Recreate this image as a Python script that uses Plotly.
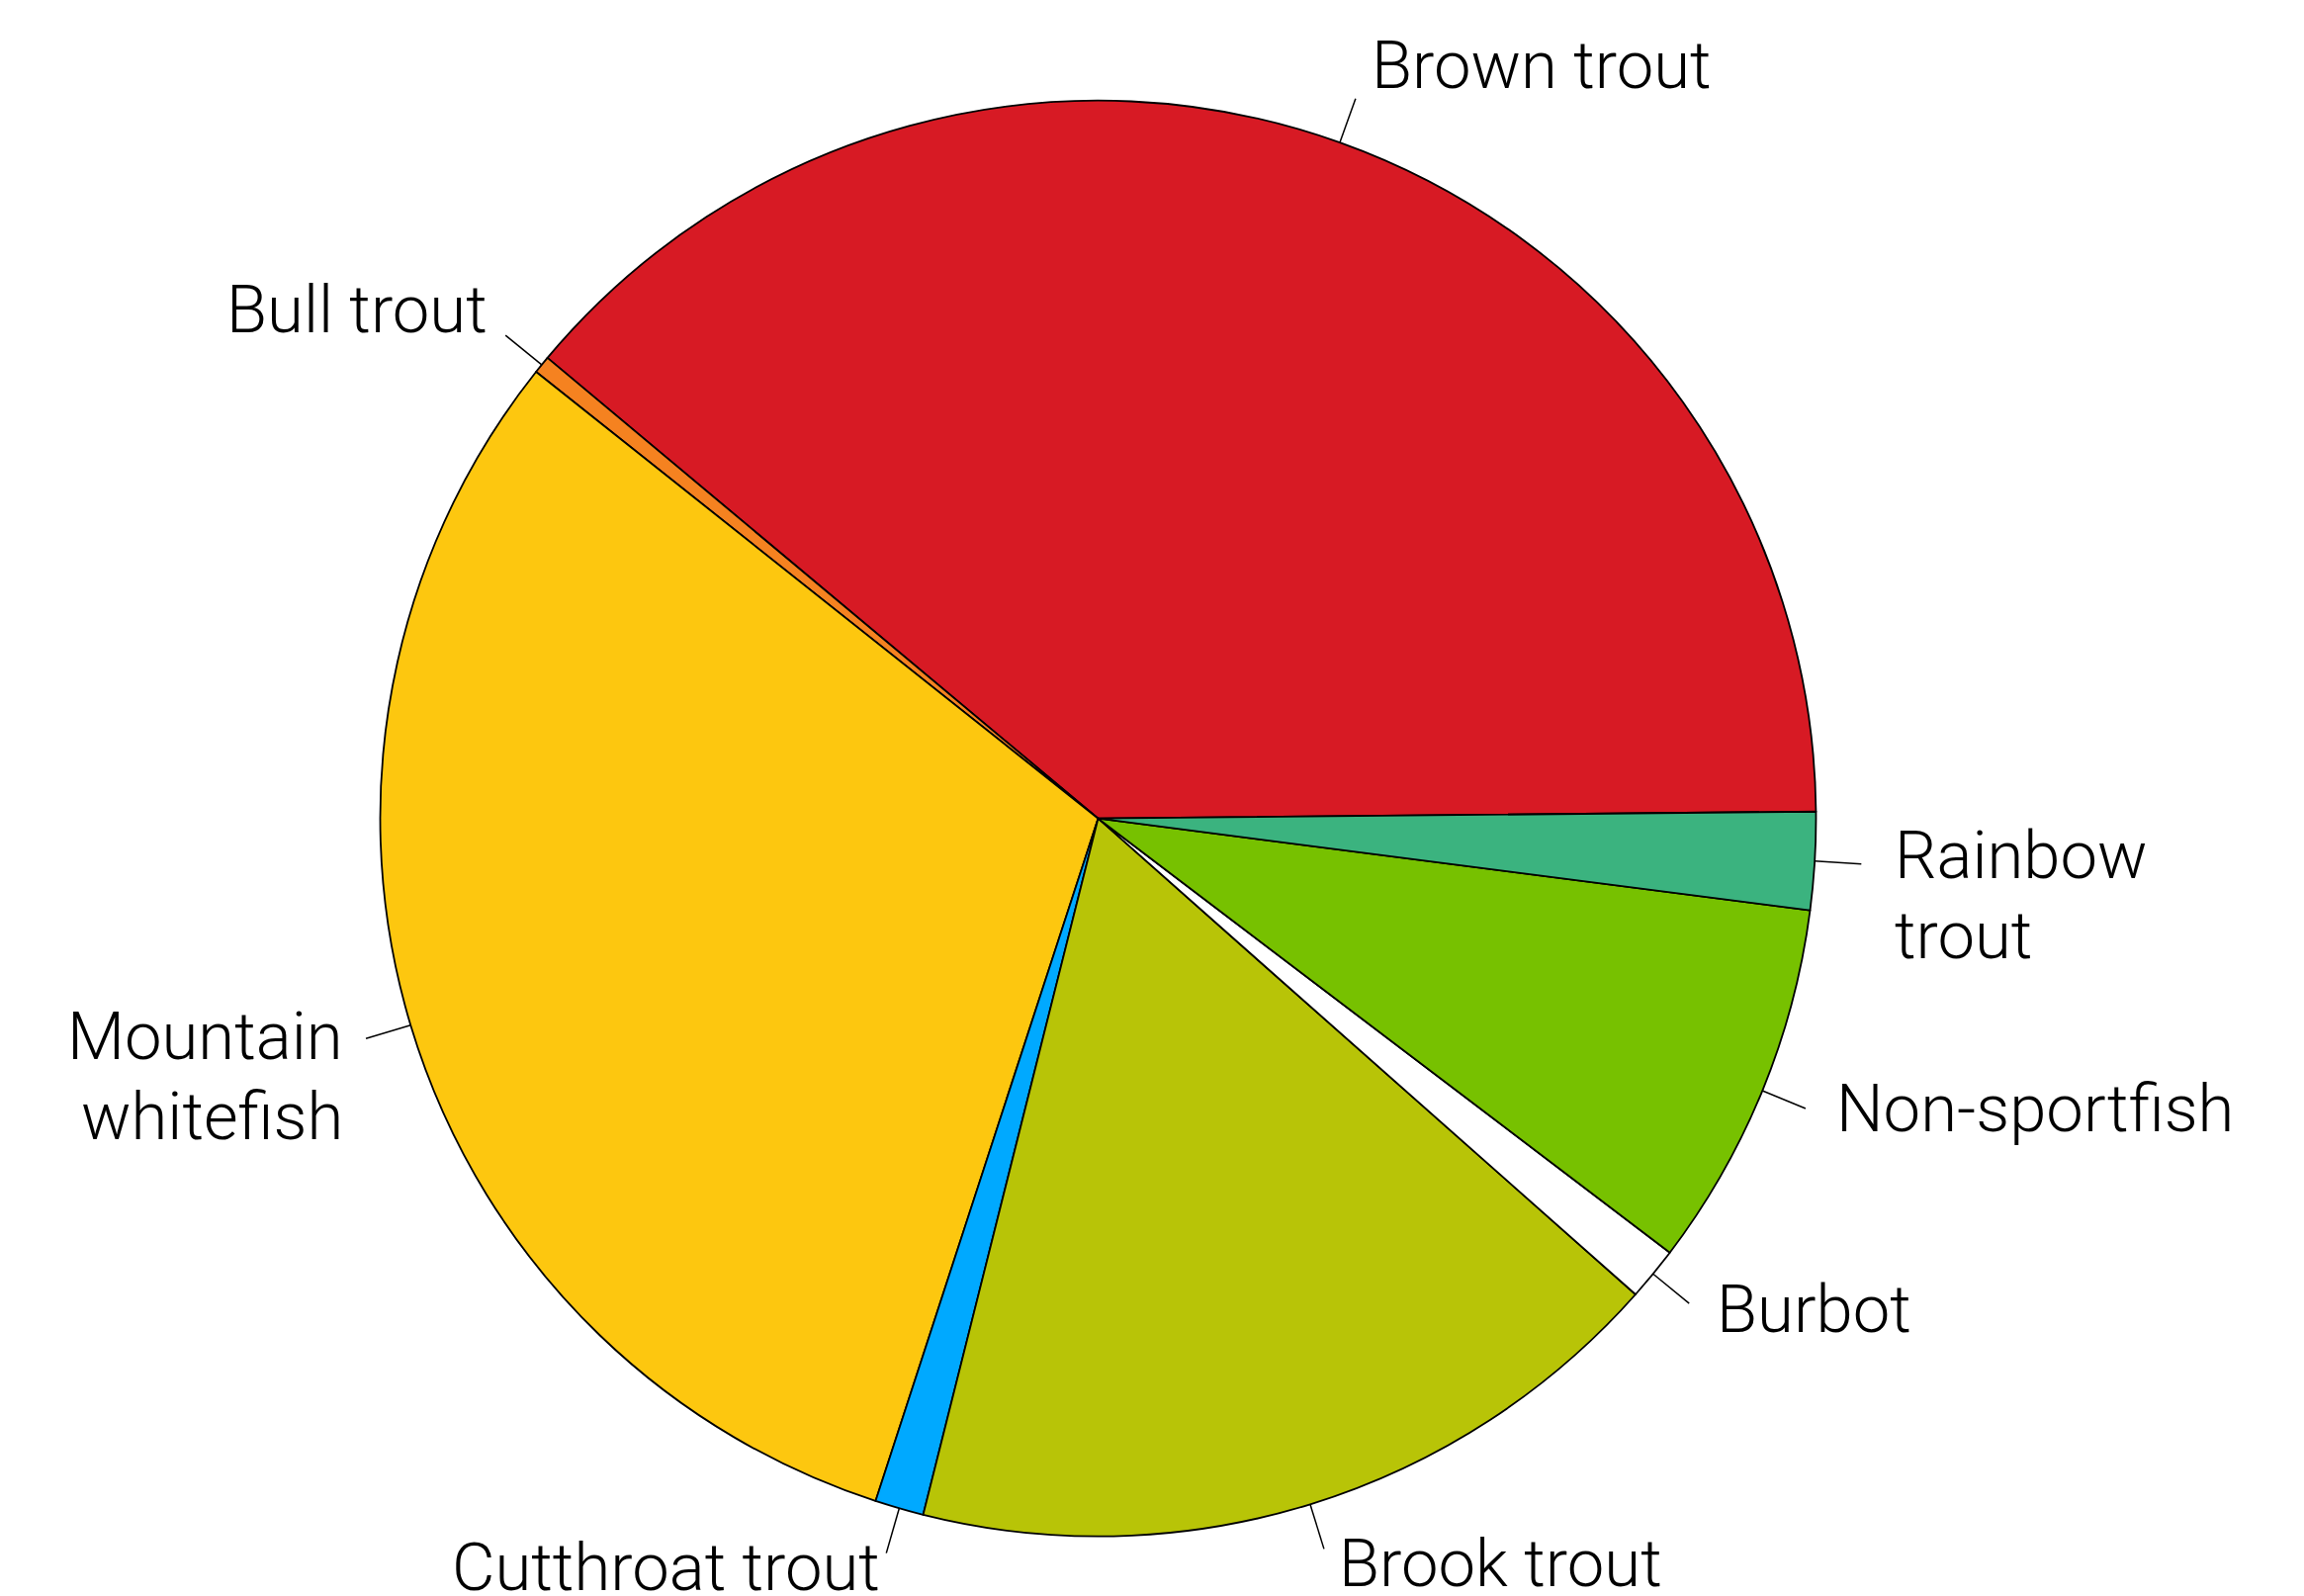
import math
import plotly.graph_objects as go

# Share of catch by species (percent), in drawing order (counter-clockwise)
species = ["Brown trout", "Bull trout", "Mountain whitefish", "Cutthroat trout",
           "Brook trout", "Burbot", "Non-sportfish", "Rainbow trout"]
share = [38.8, 0.4, 30.7, 1.1, 17.4, 1.2, 8.3, 2.2]
label_lines = [["Brown trout"], ["Bull trout"], ["Mountain", "whitefish"],
               ["Cutthroat trout"], ["Brook trout"], ["Burbot"],
               ["Non-sportfish"], ["Rainbow", "trout"]]
colors = ["#D71A24", "#F58220", "#FDC70F", "#00A9FF",
          "#B8C407", "#FFFFFF", "#77C100", "#3BB37F"]

start_deg = 0.55  # first slice starts just above 3 o'clock

W, H = 2330, 1614
cx, cy, R = 1110.5, 827.7, 726.0   # pie centre and radius in pixels

FONT = dict(family="Roboto, Inter, 'Liberation Sans', sans-serif", size=67,
            color="#000000", weight=300)

total = sum(share)


def px_to_paper(x, y):
    return x / W, 1 - y / H


# plotly places the first slice clockwise of `rotation` when drawing
# counter-clockwise, so rotate to the far edge of the first slice
first_end = start_deg + share[0] / total * 360

fig = go.Figure()
fig.add_trace(go.Pie(
    labels=species,
    values=share,
    sort=False,
    direction="counterclockwise",
    rotation=90 - first_end,
    textinfo="none",
    hoverinfo="label+percent",
    showlegend=False,
    marker=dict(colors=colors, line=dict(color="#000000", width=1.8)),
    domain=dict(x=[(cx - 800) / W, (cx + 800) / W],
                y=[(H - cy - R) / H, (H - cy + R) / H]),
))

cum = 0.0
shapes, annotations = [], []
for name, v, lines in zip(species, share, label_lines):
    mid = math.radians(start_deg + (cum + v / 2) / total * 360)
    cum += v
    c, s = math.cos(mid), math.sin(mid)
    # leader line from the rim outward
    x0, y0 = px_to_paper(cx + R * c, cy - R * s)
    x1, y1 = px_to_paper(cx + 1.065 * R * c, cy - 1.065 * R * s)
    shapes.append(dict(type="line", xref="paper", yref="paper",
                       x0=x0, y0=y0, x1=x1, y1=y1,
                       line=dict(color="#000000", width=1.5)))
    # label text just beyond the leader line
    tx = cx + 1.1 * R * c
    ty = cy - 1.1 * R * s - 10
    right_side = c >= 0
    tx += 6 if right_side else 3
    for i, line in enumerate(lines):
        ax, ay = px_to_paper(tx, ty + i * 81)
        annotations.append(dict(
            text=line, x=ax, y=ay, xref="paper", yref="paper",
            xanchor="left" if right_side else "right", yanchor="middle",
            showarrow=False, font=FONT,
        ))

fig.update_layout(
    width=W, height=H,
    margin=dict(l=0, r=0, t=0, b=0),
    paper_bgcolor="#FFFFFF",
    plot_bgcolor="#FFFFFF",
    shapes=shapes,
    annotations=annotations,
)

fig.write_html("out.html")
